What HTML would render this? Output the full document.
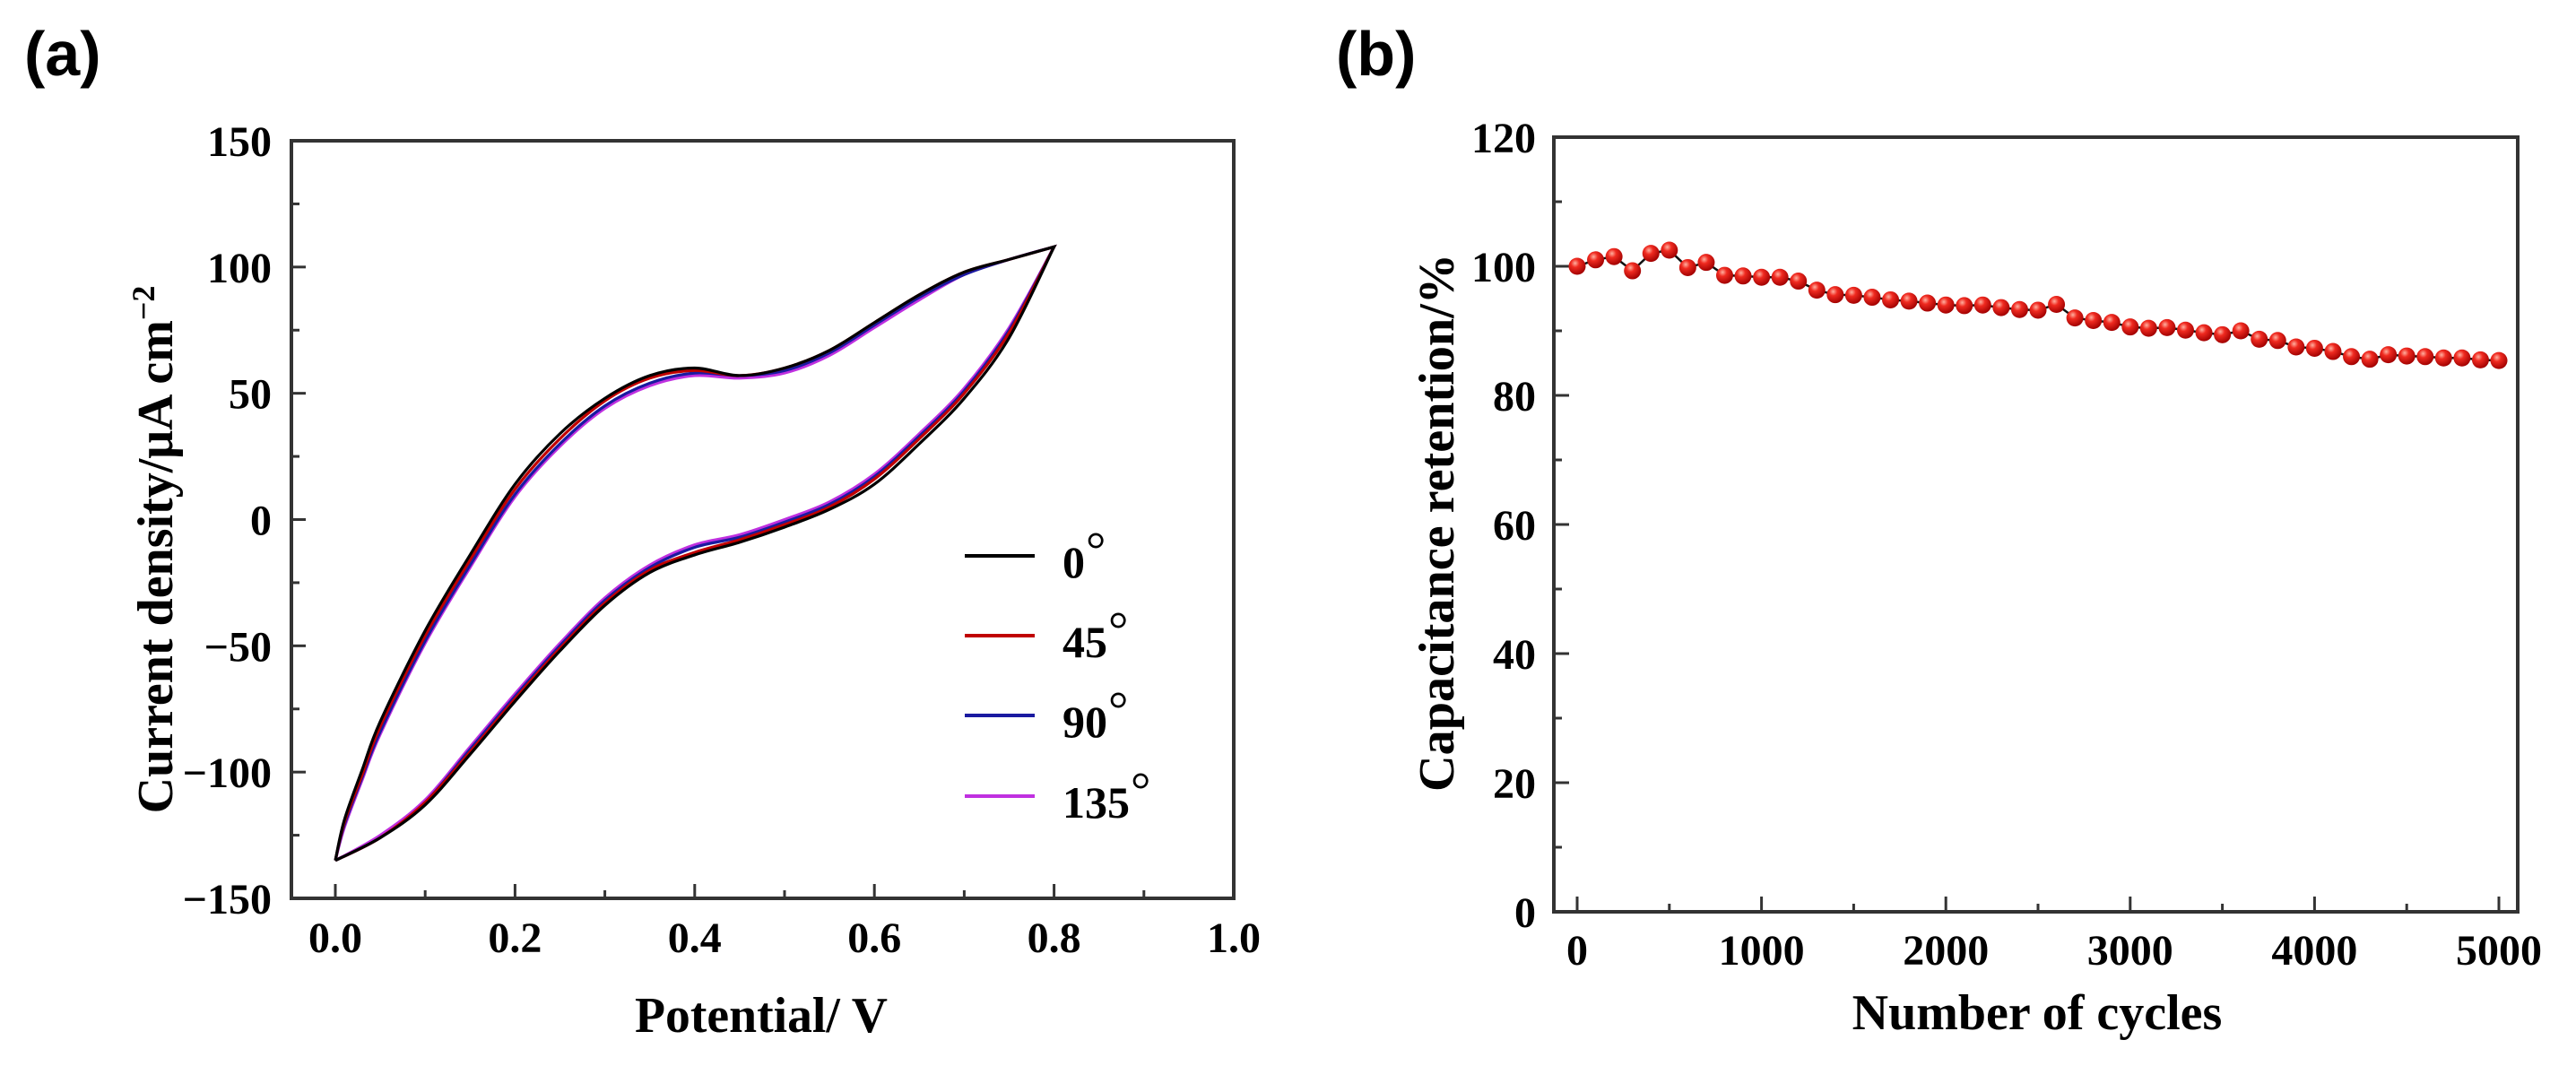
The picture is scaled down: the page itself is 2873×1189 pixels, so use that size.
<!DOCTYPE html>
<html><head><meta charset="utf-8"><style>
html,body{margin:0;padding:0;background:#fff;}
svg{display:block;}
text{font-family:"Liberation Serif",serif;font-weight:bold;fill:#000;}
</style></head><body>
<svg id="fig" width="2873" height="1189" viewBox="0 0 2873 1189" xmlns="http://www.w3.org/2000/svg">
<defs>
<radialGradient id="ball" cx="0.38" cy="0.32" r="0.7">
<stop offset="0" stop-color="#ffb0a0"/><stop offset="0.35" stop-color="#f02a20"/><stop offset="1" stop-color="#a00000"/>
</radialGradient>
</defs>
<text x="27" y="84" style="font-family:'Liberation Sans',sans-serif;font-size:70px">(a)</text>
<text x="1490" y="84" style="font-family:'Liberation Sans',sans-serif;font-size:70px">(b)</text>
<g id="pa"></g>
<g id="pb"></g>
</svg>
<script>
// ---- Panel (a) data ----
const cvSeriesNames = ["0°", "45°", "90°", "135°"];
const cvColors = ["#000000", "#c00000", "#1a1aa0", "#c030e0"];
const cvAnodicX = [0, 0.01, 0.03, 0.05, 0.1, 0.15, 0.2, 0.25, 0.3, 0.35, 0.4, 0.45, 0.5, 0.55, 0.6, 0.65, 0.7, 0.75, 0.8];
const cvAnodic0 = [-135, -119, -99, -80, -44, -14, 14, 34, 48, 57, 60, 57, 60, 67, 78, 89, 98, 103, 108];
const cvAnodic45 = [-135, -120, -101, -82, -46, -16, 12, 32, 47, 56, 59, 57, 60, 67, 78, 89, 98, 103, 108];
const cvAnodic90 = [-135, -121, -102, -84, -48, -18, 10, 30, 45, 54, 58, 57, 59, 66, 77, 88, 97, 103, 108];
const cvAnodic135 = [-135, -122, -103, -85, -49, -19, 9, 29, 44, 53, 57, 56, 58, 65, 76, 87, 97, 103, 108];
const cvCathodicX = [0.8, 0.75, 0.7, 0.65, 0.6, 0.55, 0.5, 0.45, 0.4, 0.35, 0.3, 0.25, 0.2, 0.15, 0.1, 0.05, 0];
const cvCathodic0 = [108, 72, 48, 30, 14, 4, -3, -9, -14, -21, -34, -52, -72, -93, -113, -126, -135];
const cvCathodic45 = [108, 74, 50, 32, 16, 5, -2, -8, -13, -20, -33, -51, -71, -92, -112, -126, -135];
const cvCathodic90 = [108, 75, 51, 33, 17, 6, -1, -7, -11, -19, -32, -50, -70, -91, -112, -126, -135];
const cvCathodic135 = [108, 76, 52, 34, 18, 7, 0, -6, -10, -18, -31, -49, -69, -90, -111, -125, -135];
const cvXTicks = ["0.0", "0.2", "0.4", "0.6", "0.8", "1.0"];
const cvYTicks = ["150", "100", "50", "0", "\u221250", "\u2212100", "\u2212150"];
// ---- Panel (b) data ----
const cycles = [0,100,200,300,400,500,600,700,800,900,1000,1100,1200,1300,1400,1500,1600,1700,1800,1900,2000,2100,2200,2300,2400,2500,2600,2700,2800,2900,3000,3100,3200,3300,3400,3500,3600,3700,3800,3900,4000,4100,4200,4300,4400,4500,4600,4700,4800,4900,5000];
const retention = [100,101,101.5,99.3,102,102.5,99.8,100.6,98.6,98.5,98.3,98.3,97.7,96.3,95.6,95.5,95.2,94.8,94.6,94.3,94.0,93.9,94.0,93.6,93.3,93.2,94.1,92.0,91.6,91.3,90.6,90.4,90.5,90.1,89.7,89.4,90.0,88.7,88.5,87.5,87.3,86.8,86.0,85.6,86.3,86.1,86.0,85.8,85.8,85.5,85.4];
const retXTicks = ["0", "1000", "2000", "3000", "4000", "5000"];
const retYTicks = ["0", "20", "40", "60", "80", "100", "120"];

const NS = "http://www.w3.org/2000/svg";
function mk(parent, tag, attrs) {
  const e = document.createElementNS(NS, tag);
  for (const k in attrs) e.setAttribute(k, attrs[k]);
  parent.appendChild(e);
  return e;
}
function smooth(pts) {
  let d = "M" + pts[0][0] + "," + pts[0][1];
  for (let i = 0; i < pts.length - 1; i++) {
    const p0 = pts[Math.max(0, i - 1)], p1 = pts[i], p2 = pts[i + 1], p3 = pts[Math.min(pts.length - 1, i + 2)];
    const c1x = p1[0] + (p2[0] - p0[0]) / 6, c1y = p1[1] + (p2[1] - p0[1]) / 6;
    const c2x = p2[0] - (p3[0] - p1[0]) / 6, c2y = p2[1] - (p3[1] - p1[1]) / 6;
    d += " C" + c1x + "," + c1y + " " + c2x + "," + c2y + " " + p2[0] + "," + p2[1];
  }
  return d;
}

// ===== Panel (a) =====
const A = { l: 325, r: 1376, t: 157, b: 1002 };
const ax = v => 374 + (v - 0) * (A.r - 374) / 1.0;
const ay = v => A.t + (150 - v) * (A.b - A.t) / 300;
const pa = document.getElementById("pa");
for (let i = 0; i <= 10; i++) {
  const v = i * 0.1, x = ax(v), len = (i % 2 === 0) ? 16 : 9;
  const t = mk(pa, "line", { x1: x, y1: A.b, x2: x, y2: A.b - len, stroke: "#333", "stroke-width": 3 });
  
  
}
cvXTicks.forEach((s, i) => {
  const t = mk(pa, "text", { x: ax(parseFloat(s)), y: 1062, "text-anchor": "middle", "font-size": 48 });
  t.textContent = s;
  
  
});
for (let v = -150; v <= 150; v += 25) {
  const y = ay(v), len = (v % 50 === 0) ? 16 : 9;
  const t = mk(pa, "line", { x1: A.l, y1: y, x2: A.l + len, y2: y, stroke: "#333", "stroke-width": 3 });
  
  
}
cvYTicks.forEach(s => {
  const v = parseFloat(s.replace("\u2212", "-"));
  const t = mk(pa, "text", { x: 303, y: ay(v) + 17, "text-anchor": "end", "font-size": 48 });
  t.textContent = s;
  
  
});
const anodic = [cvAnodic0, cvAnodic45, cvAnodic90, cvAnodic135];
const cathodic = [cvCathodic0, cvCathodic45, cvCathodic90, cvCathodic135];
for (let s = 3; s >= 0; s--) {
  const up = cvAnodicX.map((x, i) => [ax(x), ay(anodic[s][i])]);
  const dn = cvCathodicX.map((x, i) => [ax(x), ay(cathodic[s][i])]);
  const p = mk(pa, "path", { d: smooth(up) + " " + smooth(dn).replace("M", "L"), fill: "none", stroke: cvColors[s], "stroke-width": 3.2 });
  
  
}
mk(pa, "rect", { x: A.l, y: A.t, width: A.r - A.l, height: A.b - A.t, fill: "none", stroke: "#333", "stroke-width": 4 });
const legY = [620, 709, 798, 888];
cvSeriesNames.forEach((n, i) => {
  const g = mk(pa, "g", {});
  
  
  mk(g, "line", { x1: 1076, y1: legY[i], x2: 1154, y2: legY[i], stroke: cvColors[i], "stroke-width": 4 });
  const num = n.replace("°", "");
  const t = mk(g, "text", { x: 1185, y: legY[i] + 24, "font-size": 50 });
  t.textContent = num;
  const w = num.length * 25;
  const d = mk(g, "text", { x: 1185 + w + 1, y: legY[i] + 12, "font-size": 56, style: "font-weight:normal" });
  d.textContent = "\u00b0";
});
const xa = mk(pa, "text", { x: 849, y: 1151, "text-anchor": "middle", "font-size": 56, textLength: 282, lengthAdjust: "spacingAndGlyphs" });
xa.textContent = "Potential/ V";


const ya = mk(pa, "text", { x: 0, y: 0, "text-anchor": "middle", "font-size": 56, transform: "translate(192,613) rotate(-90)" });
ya.innerHTML = 'Current density/\u03bcA cm<tspan dy="-20" font-size="36">\u22122</tspan>';



// ===== Panel (b) =====
const B = { l: 1733, r: 2808, t: 153, b: 1017 };
const bx = v => 1759 + v * (2787 - 1759) / 5000;
const by = v => B.t + (120 - v) * (B.b - B.t) / 120;
const pb = document.getElementById("pb");
for (let v = 0; v <= 5000; v += 500) {
  const x = bx(v), len = (v % 1000 === 0) ? 17 : 9;
  const t = mk(pb, "line", { x1: x, y1: B.b, x2: x, y2: B.b - len, stroke: "#333", "stroke-width": 3 });
  
  
}
retXTicks.forEach(s => {
  const t = mk(pb, "text", { x: bx(parseFloat(s)), y: 1076, "text-anchor": "middle", "font-size": 48 });
  t.textContent = s;
  
  
});
for (let v = 0; v <= 120; v += 10) {
  const y = by(v), len = (v % 20 === 0) ? 17 : 9;
  const t = mk(pb, "line", { x1: B.l, y1: y, x2: B.l + len, y2: y, stroke: "#333", "stroke-width": 3 });
  
  
}
retYTicks.forEach(s => {
  const t = mk(pb, "text", { x: 1713, y: by(parseFloat(s)) + 17, "text-anchor": "end", "font-size": 48 });
  t.textContent = s;
  
  
});
const linePts = cycles.map((c, i) => bx(c) + "," + by(retention[i])).join(" ");
const pl = mk(pb, "polyline", { points: linePts, fill: "none", stroke: "#111", "stroke-width": 2.5 });


cycles.forEach((c, i) => {
  const m = mk(pb, "circle", { cx: bx(c), cy: by(retention[i]), r: 9.5, fill: "url(#ball)" });
  
  
});
mk(pb, "rect", { x: B.l, y: B.t, width: B.r - B.l, height: B.b - B.t, fill: "none", stroke: "#333", "stroke-width": 4 });
const xb = mk(pb, "text", { x: 2272, y: 1148, "text-anchor": "middle", "font-size": 56 });
xb.textContent = "Number of cycles";


const yb = mk(pb, "text", { x: 0, y: 0, "text-anchor": "middle", "font-size": 56, textLength: 600, lengthAdjust: "spacingAndGlyphs", transform: "translate(1621,583) rotate(-90)" });
yb.textContent = "Capacitance retention/%";


</script>
</body></html>
